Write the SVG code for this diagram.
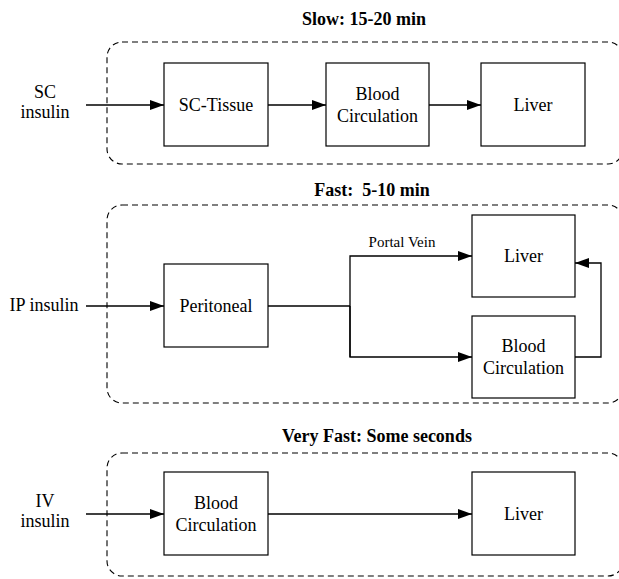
<svg xmlns="http://www.w3.org/2000/svg" width="619" height="579" viewBox="0 0 619 579">
<style>
text{font-family:"Liberation Serif","Times New Roman",serif;fill:#000}
.t{font-size:18px;font-weight:bold;text-anchor:middle}
.n{font-size:18px;text-anchor:middle}
.s{font-size:15px;text-anchor:middle}
.box{fill:#fff;stroke:#000;stroke-width:1.2}
.grp{fill:none;stroke:#000;stroke-width:1.1;stroke-dasharray:6,4}
.c{fill:none;stroke:#000;stroke-width:1.3}
</style>
<defs>
<marker id="a" markerWidth="14" markerHeight="10" refX="14" refY="5" orient="auto" markerUnits="userSpaceOnUse">
<path d="M0,0 L14,5 L0,10 Z" fill="#000"/>
</marker>
</defs>
<rect width="619" height="579" fill="#fff"/>
<g id="groups">
<rect class="grp" x="107" y="42" width="516" height="122" rx="15"/>
<rect class="grp" x="107" y="205" width="516" height="198" rx="15"/>
<rect class="grp" x="107" y="453" width="516" height="123" rx="15"/>
</g>
<g id="titles">
<text class="t" x="364" y="25">Slow: 15-20 min</text>
<text class="t" x="372" y="196" xml:space="preserve">Fast:  5-10 min</text>
<text class="t" x="377" y="442">Very Fast: Some seconds</text>
</g>
<g id="inputs">
<text class="n" x="45" y="98">SC</text>
<text class="n" x="45" y="118">insulin</text>
<text class="n" x="44" y="311">IP insulin</text>
<text class="n" x="45" y="507">IV</text>
<text class="n" x="45" y="527">insulin</text>
</g>
<g id="connectors">
<line class="c" x1="86" y1="105" x2="164" y2="105" marker-end="url(#a)"/>
<line class="c" x1="268" y1="105" x2="326" y2="105" marker-end="url(#a)"/>
<line class="c" x1="429" y1="105" x2="481" y2="105" marker-end="url(#a)"/>
<line class="c" x1="86" y1="306" x2="164" y2="306" marker-end="url(#a)"/>
<polyline class="c" points="268,306 350,306"/>
<polyline class="c" points="350,357 350,256 472,256" marker-end="url(#a)"/>
<polyline class="c" points="350,306 350,357 472,357" marker-end="url(#a)"/>
<polyline class="c" points="575,357 601,357 601,263 575,263" marker-end="url(#a)"/>
<text class="s" x="402" y="247">Portal Vein</text>
<line class="c" x1="86" y1="514" x2="164" y2="514" marker-end="url(#a)"/>
<line class="c" x1="268" y1="514" x2="472" y2="514" marker-end="url(#a)"/>
</g>
<g id="sc-tissue"><rect class="box" x="164" y="63" width="104" height="83"/><text class="n" x="216" y="111">SC-Tissue</text></g>
<g id="sc-blood"><rect class="box" x="326" y="63" width="103" height="83"/><text class="n" x="377.5" y="100">Blood</text><text class="n" x="377.5" y="122">Circulation</text></g>
<g id="sc-liver"><rect class="box" x="481" y="63" width="104" height="83"/><text class="n" x="533" y="111">Liver</text></g>
<g id="ip-peritoneal"><rect class="box" x="164" y="264" width="104" height="83"/><text class="n" x="216" y="312">Peritoneal</text></g>
<g id="ip-liver"><rect class="box" x="472" y="215" width="103" height="82"/><text class="n" x="523.5" y="262">Liver</text></g>
<g id="ip-blood"><rect class="box" x="472" y="316" width="103" height="82"/><text class="n" x="523.5" y="352">Blood</text><text class="n" x="523.5" y="374">Circulation</text></g>
<g id="iv-blood"><rect class="box" x="164" y="472" width="104" height="83"/><text class="n" x="216" y="509">Blood</text><text class="n" x="216" y="531">Circulation</text></g>
<g id="iv-liver"><rect class="box" x="472" y="472" width="103" height="83"/><text class="n" x="523.5" y="520">Liver</text></g>
</svg>
